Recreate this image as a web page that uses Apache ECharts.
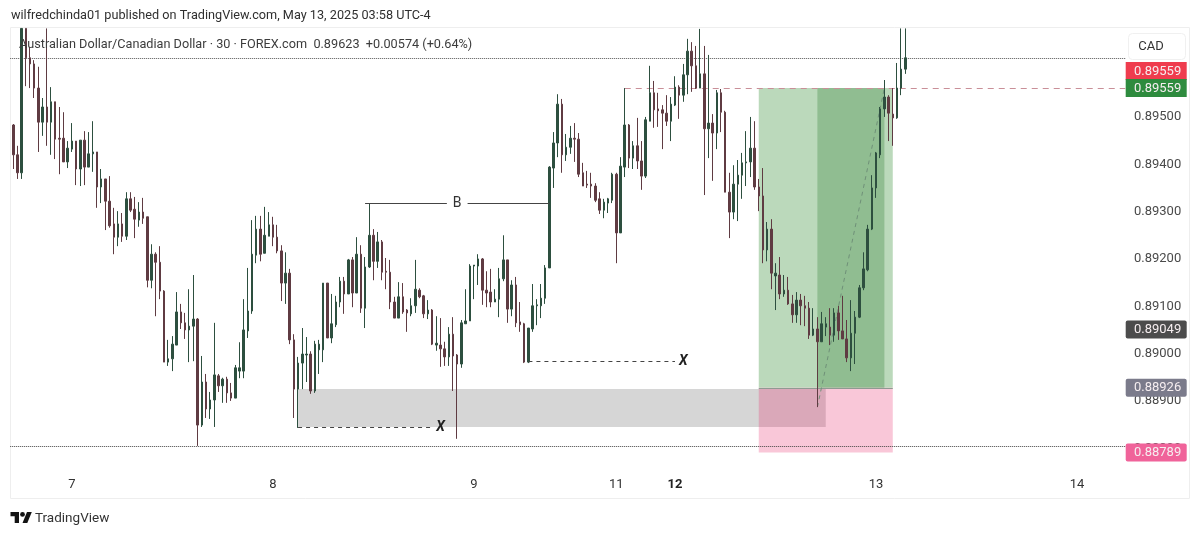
<!DOCTYPE html>
<html><head><meta charset="utf-8">
<script src="https://cdn.jsdelivr.net/npm/echarts@6/dist/echarts.min.js"></script>
<style>html,body{margin:0;padding:0;background:#fff}#c{width:1200px;height:536px}</style></head>
<body><div id="c"></div>
<script>
const opens=[0.89481,0.89418,0.89380,0.89685,0.89623,0.89610,0.89559,0.89487,0.89519,0.89487,
0.89530,0.89453,0.89453,0.89403,0.89430,0.89447,0.89388,0.89449,0.89392,0.89420,
0.89424,0.89350,0.89367,0.89320,0.89272,0.89244,0.89272,0.89246,0.89325,0.89303,
0.89280,0.89297,0.89287,0.89153,0.89208,0.89191,0.89130,0.88980,0.88987,0.89016,
0.89086,0.89063,0.89048,0.89056,0.89071,0.88847,0.88938,0.88881,0.88900,0.88951,
0.88930,0.88944,0.88915,0.88904,0.88961,0.88961,0.89046,0.89088,0.89206,0.89261,
0.89210,0.89246,0.89270,0.89244,0.89215,0.89147,0.89168,0.89027,0.88923,0.88978,
0.88995,0.88997,0.88919,0.89006,0.89006,0.89147,0.89031,0.89059,0.89107,0.89151,
0.89124,0.89196,0.89126,0.89208,0.89094,0.89181,0.89248,0.89193,0.89234,0.89172,
0.89170,0.89107,0.89073,0.89118,0.89090,0.89082,0.89099,0.89132,0.89120,0.89082,
0.89090,0.89016,0.89016,0.89008,0.88991,0.89039,0.88995,0.88976,0.89061,0.89067,
0.89183,0.89183,0.89198,0.89132,0.89128,0.89107,0.89113,0.89156,0.89196,0.89092,
0.89143,0.89065,0.89061,0.88980,0.89050,0.89099,0.89099,0.89115,0.89179,0.89390,
0.89443,0.89525,0.89418,0.89434,0.89453,0.89451,0.89380,0.89356,0.89356,0.89352,
0.89325,0.89301,0.89316,0.89322,0.89377,0.89253,0.89392,0.89481,0.89411,0.89437,
0.89405,0.89373,0.89489,0.89549,0.89515,0.89513,0.89506,0.89489,0.89523,0.89561,
0.89544,0.89587,0.89637,0.89606,0.89559,0.89589,0.89473,0.89485,0.89464,0.89549,
0.89508,0.89339,0.89297,0.89356,0.89375,0.89401,0.89403,0.89432,0.89350,0.89331,
0.89217,0.89261,0.89162,0.89164,0.89124,0.89132,0.89103,0.89080,0.89111,0.89099,
0.89094,0.89037,0.89050,0.89023,0.89054,0.89054,0.89037,0.89084,0.89046,0.89029,
0.88989,0.89041,0.89075,0.89137,0.89175,0.89261,0.89348,0.89418,0.89515,0.89540,
0.89504,0.89496,0.89559,0.89599];
const highs=[0.89483,0.89437,0.89685,0.89685,0.89646,0.89618,0.89604,0.89538,0.89685,0.89561,
0.89530,0.89519,0.89508,0.89447,0.89485,0.89447,0.89449,0.89468,0.89466,0.89489,
0.89424,0.89388,0.89367,0.89373,0.89306,0.89299,0.89295,0.89339,0.89339,0.89329,
0.89318,0.89327,0.89287,0.89229,0.89212,0.89225,0.89132,0.89027,0.89035,0.89128,
0.89103,0.89084,0.89134,0.89164,0.89073,0.88993,0.88955,0.88917,0.89063,0.88955,
0.88947,0.88949,0.88936,0.88974,0.89022,0.89113,0.89179,0.89280,0.89289,0.89289,
0.89308,0.89297,0.89287,0.89270,0.89227,0.89212,0.89177,0.89039,0.88991,0.89052,
0.89033,0.89003,0.89025,0.89027,0.89147,0.89147,0.89124,0.89120,0.89160,0.89160,
0.89198,0.89202,0.89244,0.89227,0.89202,0.89316,0.89261,0.89255,0.89238,0.89200,
0.89196,0.89118,0.89149,0.89147,0.89092,0.89115,0.89196,0.89136,0.89122,0.89111,
0.89092,0.89077,0.89073,0.89023,0.89054,0.89075,0.88997,0.89069,0.89134,0.89187,
0.89185,0.89208,0.89200,0.89172,0.89177,0.89134,0.89179,0.89248,0.89196,0.89153,
0.89160,0.89107,0.89063,0.89052,0.89145,0.89113,0.89145,0.89185,0.89394,0.89466,
0.89546,0.89536,0.89462,0.89479,0.89485,0.89464,0.89401,0.89384,0.89380,0.89358,
0.89339,0.89325,0.89327,0.89380,0.89380,0.89413,0.89559,0.89483,0.89447,0.89496,
0.89447,0.89498,0.89606,0.89574,0.89549,0.89523,0.89544,0.89540,0.89584,0.89565,
0.89610,0.89663,0.89656,0.89648,0.89684,0.89648,0.89629,0.89504,0.89555,0.89557,
0.89511,0.89380,0.89396,0.89407,0.89422,0.89468,0.89498,0.89489,0.89367,0.89390,
0.89276,0.89282,0.89189,0.89202,0.89164,0.89160,0.89122,0.89128,0.89124,0.89120,
0.89107,0.89094,0.89075,0.89086,0.89075,0.89094,0.89094,0.89099,0.89120,0.89069,
0.89111,0.89088,0.89143,0.89212,0.89270,0.89375,0.89424,0.89519,0.89576,0.89544,
0.89559,0.89612,0.89685,0.89685];
const lows=[0.89388,0.89367,0.89367,0.89563,0.89559,0.89538,0.89424,0.89458,0.89437,0.89418,
0.89409,0.89377,0.89403,0.89390,0.89424,0.89354,0.89352,0.89354,0.89392,0.89382,
0.89306,0.89316,0.89259,0.89264,0.89208,0.89225,0.89234,0.89238,0.89297,0.89242,
0.89266,0.89272,0.89138,0.89136,0.89077,0.89113,0.88980,0.88972,0.88961,0.89016,
0.89050,0.89029,0.88980,0.88982,0.88803,0.88843,0.88862,0.88860,0.88843,0.88917,
0.88894,0.88894,0.88898,0.88904,0.88946,0.88946,0.89031,0.89082,0.89189,0.89193,
0.89210,0.89246,0.89225,0.89210,0.89109,0.89103,0.89018,0.88862,0.88841,0.88923,
0.88938,0.88913,0.88915,0.88955,0.88980,0.89031,0.89020,0.89054,0.89096,0.89082,
0.89124,0.89096,0.89126,0.89084,0.89052,0.89179,0.89153,0.89179,0.89153,0.89134,
0.89092,0.89073,0.89073,0.89082,0.89044,0.89077,0.89084,0.89115,0.89073,0.89071,
0.89016,0.89004,0.88970,0.88972,0.88972,0.88919,0.88818,0.88968,0.89061,0.89067,
0.89113,0.89143,0.89101,0.89096,0.89096,0.89107,0.89075,0.89151,0.89063,0.89077,
0.89054,0.89044,0.88978,0.88978,0.89044,0.89058,0.89073,0.89103,0.89179,0.89348,
0.89413,0.89380,0.89405,0.89420,0.89403,0.89371,0.89352,0.89348,0.89327,0.89318,
0.89293,0.89284,0.89295,0.89316,0.89189,0.89253,0.89371,0.89390,0.89388,0.89388,
0.89344,0.89369,0.89489,0.89475,0.89477,0.89430,0.89479,0.89447,0.89521,0.89494,
0.89530,0.89546,0.89551,0.89557,0.89559,0.89333,0.89411,0.89363,0.89430,0.89466,
0.89339,0.89242,0.89282,0.89278,0.89325,0.89352,0.89371,0.89344,0.89299,0.89189,
0.89193,0.89134,0.89090,0.89113,0.89118,0.89101,0.89063,0.89063,0.89058,0.89056,
0.89029,0.89035,0.88885,0.89023,0.89035,0.89016,0.89023,0.89027,0.89029,0.88980,
0.88961,0.88976,0.89073,0.89132,0.89172,0.89259,0.89327,0.89411,0.89498,0.89447,
0.89437,0.89494,0.89544,0.89589];
const closes=[0.89418,0.89380,0.89685,0.89623,0.89610,0.89559,0.89487,0.89519,0.89487,0.89530,
0.89451,0.89451,0.89403,0.89432,0.89447,0.89388,0.89449,0.89392,0.89420,0.89424,
0.89350,0.89367,0.89320,0.89268,0.89244,0.89272,0.89246,0.89325,0.89301,0.89282,
0.89297,0.89284,0.89153,0.89208,0.89191,0.89130,0.88980,0.88987,0.89018,0.89086,
0.89063,0.89048,0.89056,0.89071,0.88847,0.88938,0.88881,0.88900,0.88953,0.88930,
0.88944,0.88915,0.88904,0.88968,0.88968,0.89048,0.89088,0.89208,0.89261,0.89208,
0.89248,0.89270,0.89244,0.89215,0.89147,0.89168,0.89027,0.88923,0.88978,0.88997,
0.88997,0.88919,0.89018,0.89018,0.89147,0.89031,0.89061,0.89107,0.89151,0.89124,
0.89196,0.89126,0.89208,0.89094,0.89181,0.89248,0.89193,0.89234,0.89170,0.89170,
0.89107,0.89073,0.89118,0.89086,0.89084,0.89099,0.89134,0.89118,0.89082,0.89090,
0.89018,0.89020,0.89008,0.88991,0.89039,0.88993,0.88976,0.89063,0.89067,0.89183,
0.89185,0.89198,0.89132,0.89126,0.89107,0.89113,0.89156,0.89196,0.89092,0.89143,
0.89063,0.89059,0.88980,0.89052,0.89099,0.89101,0.89115,0.89179,0.89392,0.89443,
0.89525,0.89418,0.89434,0.89453,0.89451,0.89377,0.89352,0.89354,0.89352,0.89322,
0.89301,0.89318,0.89325,0.89377,0.89253,0.89394,0.89481,0.89411,0.89437,0.89405,
0.89373,0.89492,0.89549,0.89513,0.89511,0.89506,0.89489,0.89525,0.89561,0.89544,
0.89587,0.89637,0.89606,0.89559,0.89589,0.89473,0.89485,0.89464,0.89549,0.89508,
0.89339,0.89297,0.89356,0.89375,0.89401,0.89403,0.89432,0.89350,0.89331,0.89217,
0.89261,0.89168,0.89168,0.89124,0.89132,0.89103,0.89080,0.89111,0.89099,0.89094,
0.89037,0.89050,0.89023,0.89061,0.89061,0.89037,0.89084,0.89046,0.89029,0.88989,
0.89041,0.89075,0.89137,0.89177,0.89261,0.89348,0.89422,0.89515,0.89540,0.89506,
0.89496,0.89559,0.89599,0.89623];

const priceTicks=[0.888,0.889,0.89,0.891,0.892,0.893,0.894,0.895];
const dayTicks=[14,62,110,144,158,206,254];
const dayLabels=['7','8','9','11','12','13','14'];
const boldDay='12';
const barSlots=266;
const categories=Array.from({length:barSlots},(_,i)=>{const k=dayTicks.indexOf(i);return k<0?'':dayLabels[k];});

const lastPrice=0.89623, lowDotted=0.88803;
const targetPrice=0.89559, entryPrice=0.88926, stopPrice=0.88789;
const zoneTop=0.88923, zoneBottom=0.88843;
const bLevel=0.89316, xLevel1=0.88843, xLevel2=0.88983;
const tagValues=[0.89559,0.89559,0.89049,0.88926,0.88789];

const FONT='Roboto, sans-serif';
const snap=v=>Math.round(v)+0.5;
function rectSeries(i0,p0,i1,p1,fill,z){return {type:'custom',z,silent:true,data:[[i0,p0,i1,p1]],
 renderItem(_,api){const a=api.coord([api.value(0),api.value(1)]),b=api.coord([api.value(2),api.value(3)]);
  return {type:'rect',shape:{x:a[0],y:a[1],width:b[0]-a[0],height:b[1]-a[1]},style:{fill}};}};}
function lineSeries(i0,p0,i1,p1,stroke,dash,z,lw){return {type:'custom',z,silent:true,data:[[i0,p0,i1,p1]],
 renderItem(_,api){const a=api.coord([api.value(0),api.value(1)]),b=api.coord([api.value(2),api.value(3)]);
  const flat=api.value(1)===api.value(3);
  return {type:'line',shape:{x1:a[0],y1:flat?snap(a[1]):a[1],x2:b[0],y2:flat?snap(b[1]):b[1]},style:{stroke,lineWidth:lw||1,lineDash:dash||null}};}};}
// a horizontal level running to the pane edge(s)
function levelSeries(i0,p,stroke,dash,z){return {type:'custom',z,silent:true,clip:false,data:[[i0,p]],
 renderItem(params,api){const cs=params.coordSys,y=snap(api.coord([0,api.value(1)])[1]);
  const x1=api.value(0)<0?cs.x-1:api.coord([api.value(0),api.value(1)])[0];
  return {type:'line',shape:{x1,y1:y,x2:cs.x+cs.width,y2:y},style:{stroke,lineWidth:1,lineDash:dash}};}};}
function textSeries(i,p,text,font,fill,bg,z,dy){return {type:'custom',z,silent:true,data:[[i,p]],
 renderItem(_,api){const a=api.coord([api.value(0),api.value(1)]);
  return {type:'text',style:{text,x:a[0],y:a[1]+(dy||0),font,fill,align:'center',verticalAlign:'middle',backgroundColor:bg||null,padding:bg?[1,6]:0}};}};}
const tagFills=['#ef3c4e','#2e8b3e','#4c4c4c','#7b7b8b','#f0639a'];
const tagShift=[-17,0,0,0,0];
const tagSeries={type:'custom',z:20,silent:true,clip:false,data:tagValues.map((v,i)=>[i,v]),
 renderItem(params,api){const i=api.value(0),v=api.value(1);
  const y=api.coord([0,v])[1]+tagShift[i],x=params.coordSys.x+params.coordSys.width;
  return {type:'group',children:[
   {type:'rect',shape:{x:x+0.5,y:y-9,width:61,height:18,r:i<2?0:2},style:{fill:tagFills[i]}},
   {type:'text',style:{text:v.toFixed(5),x:x+56,y:y+0.5,align:'right',verticalAlign:'middle',font:'13px '+FONT,fill:'#f6eef0'}}]};}};

const option={animation:false,backgroundColor:'#fff',
 title:[
  {text:'wilfredchinda01 published on TradingView.com, May 13, 2025 03:58 UTC-4',left:11,top:9,padding:0,textStyle:{fontFamily:FONT,fontSize:12.7,fontWeight:'normal',color:'#2f2f2f'}},
  {text:'Australian Dollar/Canadian Dollar · 30 · FOREX.com  0.89623  +0.00574 (+0.64%)',left:19,top:38,padding:0,textStyle:{fontFamily:FONT,fontSize:12.7,fontWeight:'normal',color:'#3c3c3c'}}
 ],
 grid:{left:11.2,top:28,width:1114,height:441,containLabel:false},
 xAxis:{type:'category',data:categories,boundaryGap:true,
  axisLine:{show:false},axisTick:{show:false},splitLine:{show:false},
  axisLabel:{interval:0,margin:9,fontFamily:FONT,fontSize:13,color:'#333',showMinLabel:true,showMaxLabel:true,hideOverlap:false,
   formatter:v=>v===boldDay?'{b|'+v+'}':v,rich:{b:{fontFamily:FONT,fontSize:13,fontWeight:'bold',color:'#222'}}}},
 yAxis:{type:'value',position:'right',min:0.887542,max:0.896859,scale:true,
  axisLine:{show:false},axisTick:{show:false},splitLine:{show:false},
  axisLabel:{customValues:priceTicks,align:'right',margin:56,fontFamily:FONT,fontSize:13,color:'#4a4a4a',
   formatter:v=>'{a|'+v.toFixed(5)+'}',rich:{a:{fontFamily:FONT,fontSize:13,color:'#4a4a4a',padding:[2,0,0,0]}}}},
 graphic:[
  {type:'rect',z:-1,silent:true,shape:{x:10.5,y:27.5,width:1179,height:471},style:{fill:'none',stroke:'#eeeeee'}},
  {type:'rect',z:0,silent:true,shape:{x:1128.5,y:33.5,width:57,height:26,r:4},style:{fill:'#fff',stroke:'#f0f0f0'}},
  {type:'text',z:1,silent:true,style:{text:'CAD',x:1151,y:46.5,align:'center',verticalAlign:'middle',font:'13px '+FONT,fill:'#333'}},
  {type:'polygon',silent:true,shape:{points:[[10.5,512],[19,512],[19,523],[14.7,523],[14.7,516.2],[10.5,516.2]]},style:{fill:'#131313'}},
  {type:'circle',silent:true,shape:{cx:22.5,cy:514.4,r:2.4},style:{fill:'#131313'}},
  {type:'polygon',silent:true,shape:{points:[[22.5,523],[27.3,523],[31.8,512],[27,512]]},style:{fill:'#131313'}},
  {type:'text',silent:true,style:{text:'TradingView',x:35,y:518.5,verticalAlign:'middle',font:'13.5px '+FONT,fill:'#333'}}
 ],
 series:[
  rectSeries(68,zoneTop,194,zoneBottom,'#d6d6d6',1),
  rectSeries(178,targetPrice,210,entryPrice,'#bbd9bb',1),
  rectSeries(192,targetPrice,208,entryPrice,'rgba(46,125,50,0.3)',2),
  rectSeries(178,entryPrice,210,stopPrice,'rgba(233,30,99,0.25)',2),
  lineSeries(178,entryPrice,210,entryPrice,'#8f9a92',null,3),
  levelSeries(146,targetPrice,'#c98f98',[6,5],3),
  lineSeries(192,0.88885,208,targetPrice,'#6f9078',[4,4],3),
  levelSeries(-1,lastPrice,'#555',[1,1],3),
  levelSeries(-1,lowDotted,'#444',[1,1],3),
  {type:'candlestick',z:5,barWidth:2,clip:true,
   data:opens.map((o,i)=>[o,closes[i],lows[i],highs[i]]),
   itemStyle:{color:'#2d4f3f',color0:'#5f3b42',borderColor:'#2d4f3f',borderColor0:'#5f3b42',borderWidth:1}},
  lineSeries(84,bLevel,128,bLevel,'#444',null,6),
  textSeries(106,bLevel,'B','14px '+FONT,'#333','#fff',7,0),
  lineSeries(68,xLevel1,100,xLevel1,'#444',[4,4],6),
  textSeries(102,xLevel1,'X','italic bold 14px '+FONT,'#222',null,7,1),
  lineSeries(123,xLevel2,158,xLevel2,'#444',[4,4],6),
  textSeries(160,xLevel2,'X','italic bold 14px '+FONT,'#222',null,7,1),
  tagSeries
 ]};
const chart=echarts.init(document.getElementById('c'),null,{renderer:'canvas'});
chart.setOption(option);
</script></body></html>
